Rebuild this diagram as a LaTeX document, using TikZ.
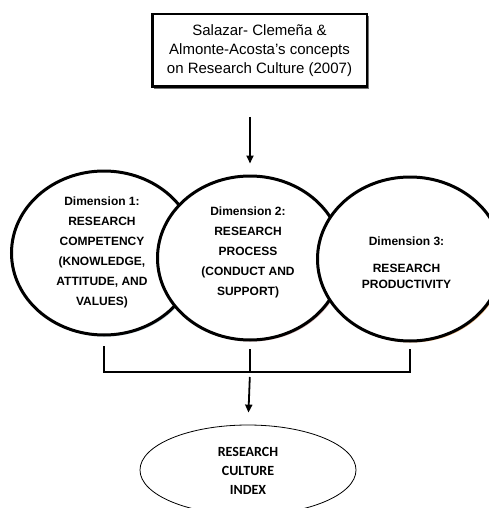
\documentclass[tikz,border=0pt]{standalone}
\usepackage{fontspec}
\setmainfont{Liberation Sans}
\newfontfamily\calib{Carlito}
\usetikzlibrary{shapes.geometric,arrows.meta,shadows}
\tikzset{
  srcbox/.style={draw=black, line width=2.5pt, fill=white, minimum width=214.5pt, minimum height=72.5pt,
    inner sep=0pt, align=center, font=\fontsize{15}{19}\selectfont,
    drop shadow={shadow xshift=2pt, shadow yshift=-2pt, fill=black!55, opacity=1}},
  dimell/.style={ellipse, draw=black, line width=3pt, fill=white, minimum width=185pt, minimum height=164pt, inner sep=0pt},
  dimtext/.style={align=center, font=\bfseries\fontsize{12}{20}\selectfont, inner sep=0pt},
  outell/.style={ellipse, draw=black, line width=0.8pt, minimum width=216pt, minimum height=90pt, inner sep=0pt},
  outtext/.style={align=center, font=\calib\bfseries\fontsize{14}{19}\selectfont, inner sep=0pt},
  conn/.style={draw=black, line width=2pt},
  arr/.style={draw=black, line width=1.8pt, -{Triangle[length=8pt,width=7pt]}}
}
\begin{document}
\begin{tikzpicture}[x=1pt,y=-1pt]
\useasboundingbox (0,0) rectangle (489,508);
\clip (0,0) rectangle (489,508);
\fill[white] (0,0) rectangle (489,508);

\node[srcbox] (src) at (259.5,50.5) {Salazar- Clemeña \&\\Almonte-Acosta’s concepts\\on Research Culture (2007)};

\node[dimell, drop shadow={shadow xshift=1.5pt, shadow yshift=-1.5pt, fill=cyan!25!gray!50, opacity=1}] (c1) at (104,253) {};
\node[dimell, drop shadow={shadow xshift=1.5pt, shadow yshift=-1.5pt, fill=red!30!gray!50, opacity=1}] (c2) at (250,258) {};
\node[dimell, drop shadow={shadow xshift=1.5pt, shadow yshift=-1.5pt, fill=orange!50!brown!60, opacity=1}] (c3) at (410,259) {};

\node[dimtext] (t1) at (102,252.5) {Dimension 1:\\RESEARCH\\COMPETENCY\\(KNOWLEDGE,\\ATTITUDE, AND\\VALUES)};
\node[dimtext] (t2) at (248,252) {Dimension 2:\\RESEARCH\\PROCESS\\(CONDUCT AND\\SUPPORT)};
\node[dimtext, font=\bfseries\fontsize{12}{16}\selectfont] (t3) at (406.5,263) {Dimension 3:\\[11pt]RESEARCH\\PRODUCTIVITY};

\node[outell] (out) at (248,470) {};
\node[outtext] (t4) at (248,471) {RESEARCH\\CULTURE\\INDEX};

\coordinate (bar) at (250,372);

\draw[arr, shorten <=29pt, shorten >=11pt] (c2.north |- src.south) -- (c2.north);
\draw[conn] ([yshift=-9.5pt]c1.south) -- (c1.south |- bar) -- (c3.south |- bar) -- ([yshift=-6.5pt]c3.south);
\draw[conn] ([yshift=-7.5pt]c2.south) -- (c2.south |- bar);
\draw[arr, shorten <=5pt, shorten >=12pt] (bar) -- (out.north);
\end{tikzpicture}
\end{document}
